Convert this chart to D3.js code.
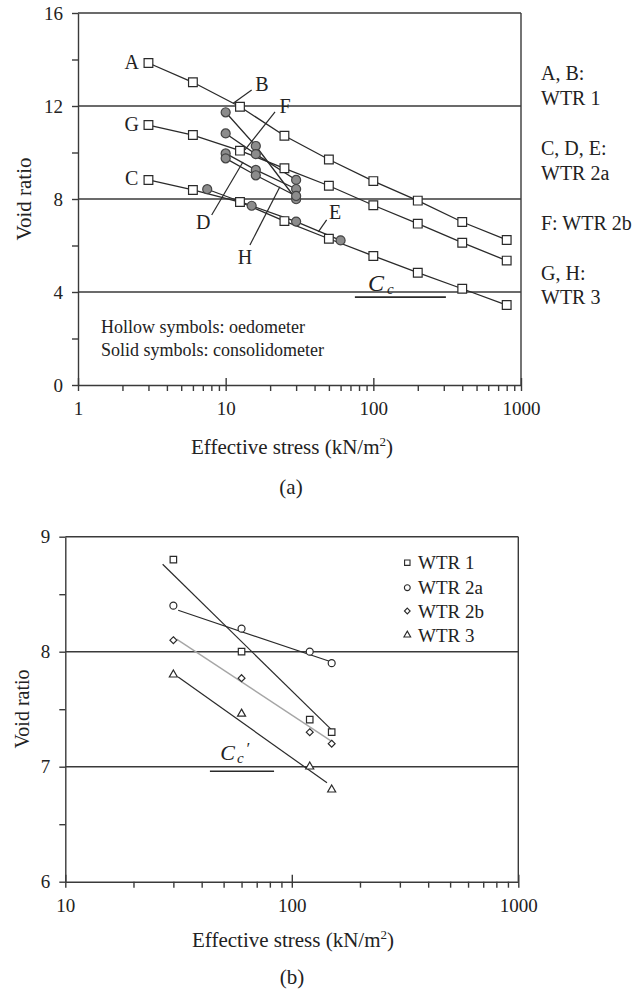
<!DOCTYPE html>
<html>
<head>
<meta charset="utf-8">
<script src="https://cdn.jsdelivr.net/npm/d3@7"></script>
<style>
  body { margin: 0; background: #fff; }
  svg { font-family: "Liberation Serif", "Times New Roman", serif; }
</style>
</head>
<body>
<div id="chart"></div>
<script>
// ---- panel (a) data ----
const oedStress = [3, 6, 12.5, 25, 50, 100, 200, 400, 800];
const eA = [13.85, 13.02, 11.97, 10.72, 9.70, 8.77, 7.93, 7.01, 6.24];
const eG = [11.18, 10.75, 10.08, 9.32, 8.57, 7.73, 6.94, 6.12, 5.35];
const eC = [8.82, 8.39, 7.87, 7.05, 6.29, 5.55, 4.83, 4.14, 3.44];

const conStress = [10, 16, 30];
const eB = [11.73, 10.28, 7.99];
const eF = [10.82, 9.93, 8.82];
const eD = [9.96, 9.25, 8.43];
const eH = [9.75, 9.02, 8.13];
const stressE = [7.5, 15, 30, 60];
const eE = [8.42, 7.71, 7.03, 6.22];

// curve letters: [stress, void ratio]
const curveLabels = [
  ["A", 2.31, 13.9], ["G", 2.31, 11.23], ["C", 2.31, 8.9],
  ["B", 17.6, 12.95], ["F", 25.2, 12.0], ["D", 7.05, 7.02],
  ["H", 13.5, 5.52], ["E", 55, 7.44]
];
const leaders = [
  [[15.0, 12.69], [11.25, 12.12]],
  [[21.6, 11.75], [13.5, 10.11]],
  [[8.04, 7.31], [13.1, 9.59]],
  [[14.6, 6.02], [23.3, 8.53]],
  [[48.3, 7.10], [42.4, 6.59]]
];
const groupLabels = [
  ["A, B:", 80], ["WTR 1", 105], ["C, D, E:", 155], ["WTR 2a", 180],
  ["F: WTR 2b", 230], ["G, H:", 280], ["WTR 3", 304]
];

// ---- panel (b) data ----
const bStress = [30, 60, 120, 150];
const bWTR1 = [8.80, 8.00, 7.41, 7.30];
const bWTR2a = [8.40, 8.20, 8.00, 7.90];
const bWTR2b = [8.10, 7.77, 7.30, 7.20];
const bWTR3 = [7.80, 7.46, 7.00, 6.80];
const trendWTR1 = [[26.9, 8.76], [150, 7.32]];
const trendWTR2a = [[31.5, 8.36], [150, 7.91]];
const trendWTR2b = [[31, 8.11], [150, 7.22]];
const trendWTR3 = [[31.5, 7.78], [143, 6.86]];
const legendNames = ["WTR 1", "WTR 2a", "WTR 2b", "WTR 3"];

const ink = "#2a2a2a";
const svg = d3.select("#chart").append("svg")
  .attr("width", 636).attr("height", 989);

function logTicks(lo, hi) {
  const t = [];
  for (let p = lo; p < hi; p *= 10) for (let k = 1; k < 10; k++) t.push(p * k);
  t.push(hi);
  return t;
}
const isPow10 = d => Math.abs(Math.log10(d) - Math.round(Math.log10(d))) < 1e-9;

function frame(x, y, grid, yTicks, yLabelEvery) {
  const [x0, x1] = x.range(), [y0, y1] = y.range();
  grid.forEach(v => {
    svg.append("line").attr("x1", x0).attr("x2", x1)
      .attr("y1", y(v)).attr("y2", y(v))
      .attr("stroke", "#3a3a3a").attr("stroke-width", 1.4);
  });
  svg.append("line").attr("x1", x1).attr("x2", x1).attr("y1", y1).attr("y2", y0)
    .attr("stroke", "#3a3a3a").attr("stroke-width", 1.4);

  const xAxis = svg.append("g").attr("transform", `translate(0,${y0})`)
    .call(d3.axisBottom(x).tickValues(logTicks(x.domain()[0], x.domain()[1]))
      .tickSize(6).tickSizeOuter(0).tickPadding(11)
      .tickFormat(d => isPow10(d) ? d : ""));
  xAxis.selectAll(".tick line").filter(d => isPow10(d)).attr("y1", -7);
  const yAxis = svg.append("g").attr("transform", `translate(${x0},0)`)
    .call(d3.axisLeft(y).tickValues(yTicks).tickSize(6).tickSizeOuter(0).tickPadding(9)
      .tickFormat(d => Math.abs(d / yLabelEvery - Math.round(d / yLabelEvery)) < 1e-9 ? d : ""));
  [xAxis, yAxis].forEach(g => {
    g.attr("font-family", null);
    g.selectAll("path, line").attr("stroke", "#3a3a3a").attr("stroke-width", 1.4);
    g.selectAll("text").attr("font-size", 19).attr("fill", "#222");
  });
}

function curve(x, y, xs, ys, color, width) {
  svg.append("path")
    .datum(xs.map((s, i) => [s, ys[i]]))
    .attr("fill", "none").attr("stroke", color || ink).attr("stroke-width", width || 1.3)
    .attr("d", d3.line().x(d => x(d[0])).y(d => y(d[1])));
}

function marks(x, y, xs, ys, type, size, fill, stroke) {
  svg.append("g").selectAll("path")
    .data(xs.map((s, i) => [s, ys[i]]))
    .join("path")
    .attr("transform", d => `translate(${x(d[0])},${y(d[1])})`)
    .attr("d", d3.symbol().type(type).size(size))
    .attr("fill", fill).attr("stroke", stroke || ink).attr("stroke-width", 1.2);
}

// ================= panel (a) =================
const xA = d3.scaleLog().domain([1, 1000]).range([78, 521]);
const yA = d3.scaleLinear().domain([0, 16]).range([385, 13]);
frame(xA, yA, [4, 8, 12, 16], d3.range(0, 17, 2), 4);

[eA, eG, eC].forEach(e => curve(xA, yA, oedStress, e));
[eB, eF, eD, eH].forEach(e => curve(xA, yA, conStress, e));
curve(xA, yA, stressE, eE);

leaders.forEach(l => curve(xA, yA, l.map(p => p[0]), l.map(p => p[1]), ink, 1.2));

[eB, eF, eD, eH].forEach(e => marks(xA, yA, conStress, e, d3.symbolCircle, 64, "#8c8c8c", "#444"));
marks(xA, yA, stressE, eE, d3.symbolCircle, 64, "#8c8c8c", "#444");
[eA, eG, eC].forEach(e => marks(xA, yA, oedStress, e, d3.symbolSquare, 76, "#fff"));

svg.append("g").selectAll("text").data(curveLabels).join("text")
  .attr("x", d => xA(d[1])).attr("y", d => yA(d[2]))
  .attr("text-anchor", "middle").attr("dominant-baseline", "central")
  .attr("font-size", 20).attr("fill", "#222").text(d => d[0]);

svg.append("g").selectAll("text").data(groupLabels).join("text")
  .attr("x", 541).attr("y", d => d[1])
  .attr("font-size", 20).attr("fill", "#222").text(d => d[0]);

svg.append("text").attr("x", 101).attr("y", 333).attr("font-size", 18).attr("fill", "#222")
  .text("Hollow symbols: oedometer");
svg.append("text").attr("x", 101).attr("y", 356).attr("font-size", 18).attr("fill", "#222")
  .text("Solid symbols: consolidometer");

// Cc slope marker
curve(xA, yA, [75, 310], [3.78, 3.78], ink, 1.6);
const cc = svg.append("text").attr("x", xA(92)).attr("y", yA(4.04))
  .attr("font-size", 24).attr("font-style", "italic").attr("fill", "#222");
cc.append("tspan").text("C");
cc.append("tspan").attr("dx", 3).attr("dy", 3).attr("font-size", 15).text("c");

svg.append("text").attr("transform", "translate(24,199) rotate(-90)")
  .attr("text-anchor", "middle").attr("dominant-baseline", "central")
  .attr("font-size", 21).attr("fill", "#222").text("Void ratio");
const tA = svg.append("text").attr("x", 292).attr("y", 454).attr("text-anchor", "middle")
  .attr("font-size", 21).attr("fill", "#222");
tA.append("tspan").text("Effective stress (kN/m");
tA.append("tspan").attr("dy", -8).attr("font-size", 13).text("2");
tA.append("tspan").attr("dy", 8).text(")");
svg.append("text").attr("x", 291).attr("y", 494).attr("text-anchor", "middle")
  .attr("font-size", 21).attr("fill", "#222").text("(a)");

// ================= panel (b) =================
const xB = d3.scaleLog().domain([10, 1000]).range([65.3, 518.3]);
const yB = d3.scaleLinear().domain([6, 9]).range([881.7, 536.7]);
frame(xB, yB, [7, 8, 9], d3.range(6, 9.01, 0.5), 1);

curve(xB, yB, trendWTR1.map(d => d[0]), trendWTR1.map(d => d[1]), ink, 1.2);
curve(xB, yB, trendWTR2a.map(d => d[0]), trendWTR2a.map(d => d[1]), ink, 1.2);
curve(xB, yB, trendWTR2b.map(d => d[0]), trendWTR2b.map(d => d[1]), "#a6a6a6", 1.4);
curve(xB, yB, trendWTR3.map(d => d[0]), trendWTR3.map(d => d[1]), ink, 1.2);

const bTypes = [
  [bWTR1, d3.symbolSquare, 42],
  [bWTR2a, d3.symbolCircle, 38],
  [bWTR2b, d3.symbolDiamond2, 30],
  [bWTR3, d3.symbolTriangle, 28]
];
bTypes.forEach(([e, t, s]) => marks(xB, yB, bStress, e, t, s, "#fff"));

const legY = [562.7, 587.7, 611, 635];
bTypes.forEach(([e, t, s], i) => {
  svg.append("path").attr("transform", `translate(407.3,${legY[i]})`)
    .attr("d", d3.symbol().type(t).size(s * 0.7))
    .attr("fill", "#fff").attr("stroke", ink).attr("stroke-width", 1.1);
  svg.append("text").attr("x", 418).attr("y", legY[i]).attr("dominant-baseline", "central")
    .attr("font-size", 19).attr("fill", "#222").text(legendNames[i]);
});

// Cc' slope marker
curve(xB, yB, [43.5, 83.5], [6.96, 6.96], ink, 1.6);
const ccb = svg.append("text").attr("x", xB(48.3)).attr("y", yB(7.06))
  .attr("font-size", 22).attr("font-style", "italic").attr("fill", "#222");
ccb.append("tspan").text("C");
ccb.append("tspan").attr("dx", 2).attr("dy", 3).attr("font-size", 15).text("c");
ccb.append("tspan").attr("dx", 2).attr("dy", -9).attr("font-size", 17).text("\u2032");

svg.append("text").attr("transform", "translate(22,709) rotate(-90)")
  .attr("text-anchor", "middle").attr("dominant-baseline", "central")
  .attr("font-size", 20).attr("fill", "#222").text("Void ratio");
const tB = svg.append("text").attr("x", 293).attr("y", 947).attr("text-anchor", "middle")
  .attr("font-size", 21).attr("fill", "#222");
tB.append("tspan").text("Effective stress (kN/m");
tB.append("tspan").attr("dy", -8).attr("font-size", 13).text("2");
tB.append("tspan").attr("dy", 8).text(")");
svg.append("text").attr("x", 292).attr("y", 984).attr("text-anchor", "middle")
  .attr("font-size", 21).attr("fill", "#222").text("(b)");
</script>
</body>
</html>
